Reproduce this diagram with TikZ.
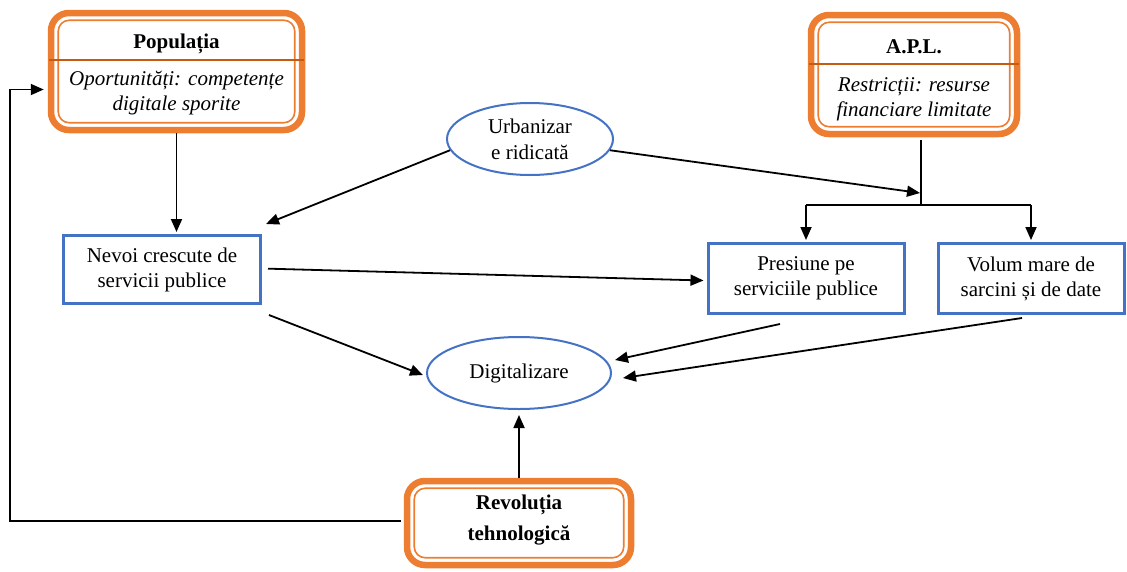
\documentclass[tikz,border=0pt]{standalone}
\usepackage{fontspec}
\setmainfont{Liberation Serif}
\usetikzlibrary{arrows.meta,shapes.geometric,calc}
\definecolor{ora}{HTML}{ED7D31}
\definecolor{oradk}{HTML}{C55A11}
\definecolor{blu}{HTML}{4472C4}
\begin{document}
\begin{tikzpicture}[x=1pt,y=-1pt,
  txt/.style={font=\fontsize{21}{25}\selectfont, align=center, inner sep=0pt},
  obox/.style={draw=ora, line width=6.5pt, rounded corners=18pt, rectangle, inner sep=0pt},
  bbox/.style={draw=blu, line width=3pt, rectangle, align=center, inner sep=0pt, font=\fontsize{21}{25}\selectfont},
  ell/.style={draw=blu, line width=2pt, ellipse, align=center, inner sep=0pt, font=\fontsize{21}{26}\selectfont},
  innerline/.style={draw=ora, line width=1.6pt, rounded corners=11pt},
  divider/.style={draw=oradk, line width=2.5pt},
  arr/.style={line width=1.8pt, -{Triangle[length=13pt,width=11pt]}},
  ln/.style={line width=1.8pt}]
\useasboundingbox (0,0) rectangle (1127,571);

% Orange boxes
\node[obox, minimum width=251pt, minimum height=117pt] (pop) at (176.5,71.5) {};
\draw[innerline] ($(pop.north west)+(10.5,10.5)$) rectangle ($(pop.south east)+(-10.5,-10.5)$);
\draw[divider] ($(pop.north west)+(1,50)$) -- ($(pop.north east)+(-1,50)$);
\node[txt, font=\fontsize{21}{25}\selectfont\bfseries] (poptitle) at (176.5,44) {Populația};
\node[txt, font=\fontsize{21}{25}\selectfont\itshape] (popsub) at (176.5,93) {Oportunități: competențe\\digitale sporite};

\node[obox, minimum width=206pt, minimum height=119pt] (apl) at (914,74.5) {};
\draw[innerline] ($(apl.north west)+(10.5,10.5)$) rectangle ($(apl.south east)+(-10.5,-10.5)$);
\draw[divider] ($(apl.north west)+(1,52)$) -- ($(apl.north east)+(-1,52)$);
\node[txt, font=\fontsize{21}{25}\selectfont\bfseries] (apltitle) at (914,47) {A.P.L.};
\node[txt, font=\fontsize{21}{25}\selectfont\itshape] (aplsub) at (914,99) {Restricții: resurse\\financiare limitate};

\node[obox, minimum width=224pt, minimum height=84pt] (rev) at (519,523) {};
\draw[innerline] ($(rev.north west)+(10.5,10.5)$) rectangle ($(rev.south east)+(-10.5,-10.5)$);
\node[txt, font=\fontsize{21}{31}\selectfont\bfseries] (revtext) at (519,520) {Revoluția\\tehnologică};

% Blue boxes
\node[bbox, minimum width=197pt, minimum height=68pt] (nev) at (162,269.5) {Nevoi crescute de\\servicii publice};
\node[bbox, minimum width=196pt, minimum height=70pt] (pres) at (806,278.5) {Presiune pe\\serviciile publice};
\node[bbox, minimum width=186pt, minimum height=70pt] (vol) at (1031,278.5) {Volum mare de\\sarcini și de date};

% Ellipses
\node[ell, minimum width=166pt, minimum height=72pt] (urb) at (530,139) {Urbanizar\\e ridicată};
\node[ell, minimum width=184pt, minimum height=72pt] (dig) at (519,373) {Digitalizare};

% Connectors
\draw[arr] (pop.south) -- ($(pop.south |- nev.north)+(0,-2)$);
\draw[arr] (urb.188) -- ($(nev.north east)+(4,-10)$);
\coordinate (jt) at (920,193);
\coordinate (jb) at (921,205);
\draw[arr] (urb.352) -- (jt);
\draw[ln] ($(apl.south)+(7,3)$) -- (jb);
\draw[ln] (jb) -- (jb -| pres.north);
\draw[ln] (jb) -- (jb -| vol.north);
\draw[arr] (jb -| pres.north) -- ($(pres.north)+(0,-2)$);
\draw[arr] (jb -| vol.north) -- ($(vol.north)+(0,-2)$);
\draw[arr, shorten <=6pt] ($(nev.east)+(0,-1)$) -- ($(pres.west)+(-3,2)$);
\draw[arr] ($(nev.south east)+(7,10)$) -- ($(dig.west)+(-3,2)$);
\draw[arr] ($(pres.south)+(-26,9)$) -- ($(dig.east)+(3,-13)$);
\draw[arr] ($(vol.south)+(-9,3)$) -- ($(dig.east)+(11,5)$);
\draw[arr] (rev.north) -- ($(dig.south)+(0,5)$);
\coordinate (lft) at (10,521);
\draw[arr] ($(rev.west)+(-3,-2)$) -- (lft) |- ($(pop.west)+(-4,18)$);
\end{tikzpicture}
\end{document}
